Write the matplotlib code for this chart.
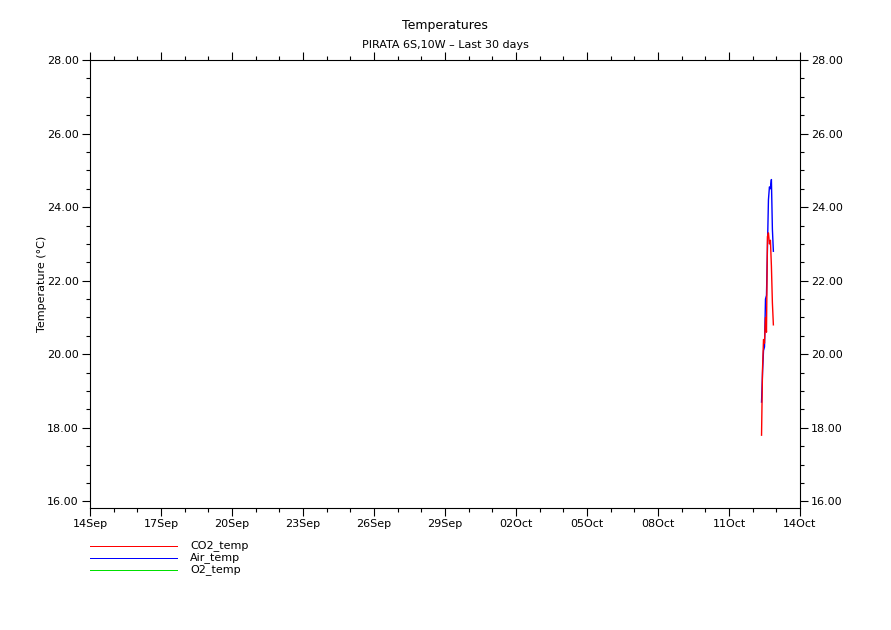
import matplotlib
matplotlib.use("Agg")
import matplotlib.pyplot as plt
import matplotlib.dates as mdates
from matplotlib.ticker import MultipleLocator, FormatStrFormatter
from matplotlib.lines import Line2D
import datetime as dt

# ---- data (hourly readings on 12 Oct) ----
start = dt.datetime(2023, 10, 12, 9)
hours = list(range(13))
co2_temp = [17.8, 19.6, 20.4, 20.3, 21.0, 20.6, 23.2, 23.3, 23.0, 23.1, 22.4, 21.4, 20.8]
air_temp = [18.7, 19.5, 20.1, 20.2, 21.5, 21.6, 22.9, 24.2, 24.55, 24.5, 24.75, 23.4, 22.8]
o2_temp = []  # no data in window

series_names = ["CO2_temp", "Air_temp", "O2_temp"]
series_colors = ["#ff0000", "#0000ff", "#00e000"]

x_start = dt.datetime(2023, 9, 14)
x_end = dt.datetime(2023, 10, 14)

times = [start + dt.timedelta(hours=h) for h in hours]

fig = plt.figure(figsize=(8.91, 6.30), dpi=100)
ax = fig.add_axes([90 / 891, 1 - 508 / 630, 710 / 891, 448 / 630])

ax.plot(times, air_temp, color=series_colors[1], linewidth=1.0)
ax.plot(times, co2_temp, color=series_colors[0], linewidth=1.0)

ax.set_xlim(x_start, x_end)
ax.set_ylim(15.82, 28.0)

# x axis: major every 3 days, minor daily
ax.set_xticks([x_start + dt.timedelta(days=d) for d in range(0, 31, 3)])
ax.set_xticks([x_start + dt.timedelta(days=d) for d in range(0, 31)], minor=True)
ax.xaxis.set_major_formatter(mdates.DateFormatter("%d%b"))

ax.yaxis.set_major_locator(MultipleLocator(2))
ax.yaxis.set_minor_locator(MultipleLocator(0.5))
ax.yaxis.set_major_formatter(FormatStrFormatter("%.2f"))

ax.tick_params(which="both", direction="out", top=True, right=True,
               labelright=True, labelsize=8, width=0.8, color="black")
ax.tick_params(which="major", length=6, pad=2)
ax.tick_params(which="minor", length=3)
for s in ax.spines.values():
    s.set_linewidth(0.8)

ax.set_ylabel("Temperature (\u00b0C)", fontsize=8, labelpad=0)

fig.text(445 / 891, 1 - 26 / 630, "Temperatures", ha="center", va="center", fontsize=9)
fig.text(445 / 891, 1 - 45 / 630, "PIRATA 6S,10W \u2013 Last 30 days", ha="center",
         va="center", fontsize=8)

# legend below the plot
for i, (name, col) in enumerate(zip(series_names, series_colors)):
    y = 1 - (545.5 + 12 * i) / 630
    fig.add_artist(Line2D([90 / 891, 177 / 891], [y, y], color=col, linewidth=0.72,
                          antialiased=False))
    fig.text(190 / 891, y, name, ha="left", va="center", fontsize=8)

fig.savefig("out.png", dpi=100)
